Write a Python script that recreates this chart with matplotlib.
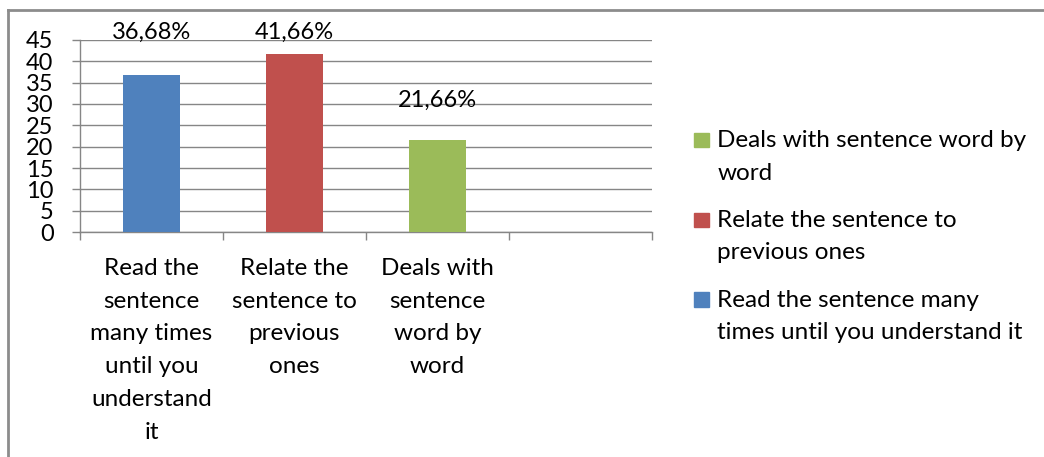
import matplotlib
matplotlib.use("Agg")
import matplotlib.pyplot as plt
from matplotlib.lines import Line2D
from matplotlib.patches import Rectangle

plt.rcParams['font.family'] = ['Lato', 'DejaVu Sans']

# answers and their shares (%)
categories = ["Read the\nsentence\nmany times\nuntil you\nunderstand\nit",
              "Relate the\nsentence to\nprevious\nones",
              "Deals with\nsentence\nword by\nword"]
legend_names = ["Read the sentence many\ntimes until you understand it",
                "Relate the sentence to\nprevious ones",
                "Deals with sentence word by\nword"]
values = [36.68, 41.66, 21.66]
value_labels = ["36,68%", "41,66%", "21,66%"]
label_lift = [10.2, 5.2, 9.2]
colors = ["#4f81bd", "#c0504d", "#9bbb59"]
grid_color = "#868686"

fig = plt.figure(figsize=(10.44, 4.57), dpi=100)
ax = fig.add_axes([0.0766, 0.4923, 0.5479, 0.4202])

xs = [0.5, 1.5, 2.5]
ax.bar(xs, values, width=0.4, color=colors, zorder=3)
for x, v, lab, lift in zip(xs, values, value_labels, label_lift):
    ax.text(x, v + lift, lab, ha="center", va="center", fontsize=17,
            color="black", clip_on=False)

ax.set_xlim(0, 4)
ax.set_ylim(0, 45)
ax.set_yticks(range(0, 46, 5))
ax.set_xticks([0, 1, 2, 3, 4])
ax.set_xticklabels([])
ax.tick_params(axis="y", labelsize=17, length=6, width=1, color=grid_color, pad=13)
ax.tick_params(axis="x", length=6, width=1, color=grid_color)
ax.yaxis.grid(True, color=grid_color, linewidth=1, zorder=0)
for side in ["top", "right"]:
    ax.spines[side].set_visible(False)
ax.spines["left"].set_color(grid_color)
ax.spines["bottom"].set_color(grid_color)
ax.spines["left"].set_linewidth(1)
ax.spines["bottom"].set_linewidth(1)

# category names under each slot
for x, name in zip(xs, categories):
    ax.text(x, -0.135, name, transform=ax.get_xaxis_transform(), ha="center",
            va="top", fontsize=17.5, linespacing=1.69)

# legend drawn by hand, last series on top
ly = [0.694, 0.519, 0.344]
for name, col, y in zip(legend_names[::-1], colors[::-1], ly):
    fig.patches.append(Rectangle((0.665, y - 0.016), 0.0145, 0.032,
                                 transform=fig.transFigure, color=col))
    fig.text(0.687, y + 0.022, name, ha="left", va="top", fontsize=17.5,
             linespacing=1.69)

# chart area border (left and top)
fig.add_artist(Line2D([0.008, 0.008], [0, 0.978], color="#8c8c8c", linewidth=2))
fig.add_artist(Line2D([0.008, 1], [0.978, 0.978], color="#8c8c8c", linewidth=2))

fig.savefig("out.png", dpi=100)
